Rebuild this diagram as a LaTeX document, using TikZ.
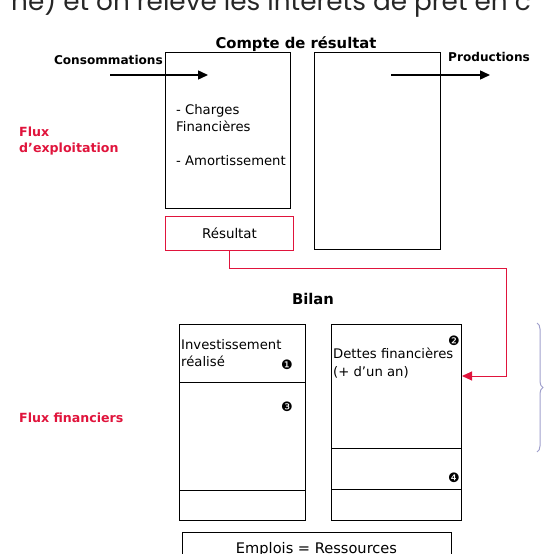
\documentclass[tikz,border=0pt]{standalone}
\usepackage{fontspec}
\setmainfont{DejaVu Sans}
\newfontfamily\haut{Poppins}
\usepackage{tikz}
\usetikzlibrary{arrows.meta,positioning,decorations.pathreplacing}
\definecolor{rougeflux}{RGB}{224,20,60}
\definecolor{mauve}{RGB}{160,160,204}

\begin{document}
\begin{tikzpicture}[x=1pt,y=-1pt,
  boite/.style={draw,line width=1pt,rectangle,inner sep=0pt,anchor=north west},
  titre/.style={font=\fontsize{14.8}{17}\selectfont\bfseries},
  etiq/.style={font=\fontsize{12.1}{14}\selectfont\bfseries},
  texte/.style={font=\fontsize{13.2}{15}\selectfont,inner sep=0pt,anchor=base west},
  flux/.style={font=\fontsize{12.6}{16}\selectfont\bfseries,text=rougeflux,align=left,inner sep=0pt,anchor=base west},
  puce/.style={font=\fontsize{13}{14}\selectfont,inner sep=0pt},
  fleche/.style={line width=1.4pt,-{Triangle[length=10pt,width=9pt]}},
  flecherouge/.style={draw=rougeflux,line width=1pt,-{Triangle[length=10pt,width=9pt]}}]
\useasboundingbox (0,0) rectangle (544,554);
\clip (0,0) rectangle (544,554);

\node[font=\haut\fontsize{26.3}{30}\selectfont,text=black!85,anchor=base west,inner sep=0pt] (phrase) at (11,10) {ne) et on relève les intérêts de prêt en c};

\node[titre] (titreCR) at (296,44) {Compte de résultat};
\node[boite,minimum width=125pt,minimum height=156pt] (charges) at (165,52) {};
\node[boite,minimum width=126pt,minimum height=197pt] (produits) at (314,52) {};
\node[boite,draw=rougeflux,minimum width=128pt,minimum height=34pt] (resultat) at (165,216) {};
\node[font=\fontsize{13.4}{15}\selectfont] (resultattxt) at (resultat.center) {Résultat};

\node[etiq,anchor=base east,inner sep=0pt] (conso) at (163,64) {Consommations};
\coordinate (consoA) at (110,75);
\coordinate (consoB) at (208,75);
\draw[fleche] (consoA) -- (consoB);
\node[etiq,anchor=base west,inner sep=0pt] (prod) at (448,61) {Productions};
\coordinate (prodA) at (391,75);
\coordinate (prodB) at (490,75);
\draw[fleche] (prodA) -- (prodB);

\node[texte] (ch1) at (176,114) {- Charges};
\node[texte] (ch2) at (176,131) {Financières};
\node[texte] (ch3) at (176,165) {- Amortissement};

\node[flux] (fluxexp) at (19,152) {Flux\\d’exploitation};
\node[flux] (fluxfin) at (19,422) {Flux financiers};

\node[titre] (titreB) at (313,299) {Bilan};
\node[boite,minimum width=126pt,minimum height=196pt] (emplois) at (179,324) {};
\node[boite,minimum width=130pt,minimum height=196pt] (dettes) at (331,324) {};
\draw[line width=1pt] (emplois.west |- 0,382) -- (emplois.east |- 0,382);
\draw[line width=1pt] (emplois.west |- 0,490) -- (emplois.east |- 0,490);
\draw[line width=1pt] (dettes.west |- 0,448) -- (dettes.east |- 0,448);
\draw[line width=1pt] (dettes.west |- 0,489) -- (dettes.east |- 0,489);

\node[texte] (inv1) at (181,349) {Investissement};
\node[texte] (inv2) at (181,366) {réalisé};
\node[puce] (p1) at (287,365) {❶};
\node[puce] (p3) at (287,407) {❸};
\node[texte] (det1) at (333,358) {Dettes financières};
\node[texte] (det2) at (333,376) {(+ d’un an)};
\node[puce] (p2) at (454,341) {❷};
\node[puce] (p4) at (454,478) {❹};

\coordinate (coude) at (506,268);
\draw[flecherouge] (resultat.south) |- (coude) |- (dettes.east |- 0,376);

\node[boite,minimum width=269pt,minimum height=40pt] (egalite) at (182,532) {};
\node[font=\fontsize{14.6}{16}\selectfont,anchor=base] (egalitetxt) at (316.5,553) {Emplois = Ressources};

\coordinate (accA) at (537,323);
\coordinate (accB) at (537,452);
\draw[mauve,line width=1pt,decorate,decoration={brace,amplitude=6pt}] (accA) -- (accB);
\end{tikzpicture}
\end{document}
